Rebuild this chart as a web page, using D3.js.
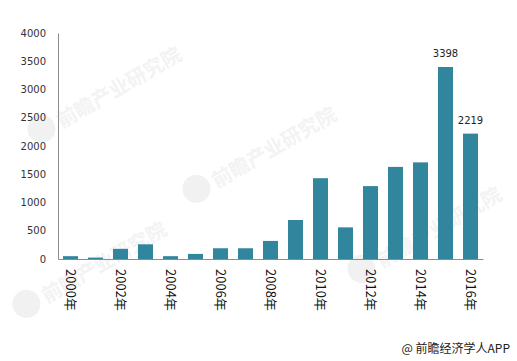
<!doctype html>
<meta charset='utf-8'>
<style>
  body { margin: 0; background: #fff; }
  svg text { font-family: 'DejaVu Sans', sans-serif; }
</style>
<body>
<script src='https://cdn.jsdelivr.net/npm/d3@7/dist/d3.min.js'></script>
<script>

// yearly values
var years = ['2000', '2001', '2002', '2003', '2004', '2005', '2006', '2007', '2008',
             '2009', '2010', '2011', '2012', '2013', '2014', '2015', '2016'];
var values = [50, 25, 180, 260, 50, 90, 190, 190, 320, 690, 1430, 560, 1290, 1630, 1710, 3398, 2219];
var labelled = ['2015', '2016'];   // bars that carry a value label
var yTicks = [0, 500, 1000, 1500, 2000, 2500, 3000, 3500, 4000];

var width = 517, height = 361;
var margin = {top: 33, right: 34, bottom: 102, left: 58};

var svg = d3.select('body').append('svg')
    .attr('width', width)
    .attr('height', height);

// faint watermarks behind the chart
var marks = [[60, 125], [215, 185], [45, 300], [380, 265]];
var wm = svg.append('g').attr('class', 'watermark');
marks.forEach(function(p) {
  var g = wm.append('g').attr('transform', 'translate(' + p[0] + ',' + p[1] + ') rotate(-30)');
  g.append('circle').attr('cx', -18).attr('cy', -6).attr('r', 14).attr('fill', '#f1f1f1');
  g.append('text')
    .attr('x', 0).attr('y', 4)
    .style('font-family', "'Noto Sans CJK SC', sans-serif")
    .style('font-size', '20px')
    .style('font-weight', 'bold')
    .attr('fill', '#f3f3f3')
    .text('前瞻产业研究院');
});

var x = d3.scaleBand()
    .domain(years)
    .range([margin.left, width - margin.right])
    .paddingInner(0.4)
    .paddingOuter(0.2);

var y = d3.scaleLinear()
    .domain([0, 4000])
    .range([height - margin.bottom, margin.top]);

// bars
svg.append('g')
  .selectAll('rect')
  .data(values)
  .enter().append('rect')
    .attr('x', function(d, i) { return x(years[i]); })
    .attr('y', function(d) { return y(d); })
    .attr('width', x.bandwidth())
    .attr('height', function(d) { return y(0) - y(d); })
    .attr('fill', '#31859c');

// value labels
svg.append('g')
  .selectAll('text')
  .data(values.filter(function(d, i) { return labelled.indexOf(years[i]) >= 0; }))
  .enter().append('text')
    .attr('x', function(d) { return x(years[values.indexOf(d)]) + x.bandwidth() / 2; })
    .attr('y', function(d) { return y(d) - 10; })
    .attr('text-anchor', 'middle')
    .style('font-size', '10px')
    .attr('fill', '#222')
    .text(function(d) { return d; });

// y axis
var yAxis = svg.append('g')
    .attr('transform', 'translate(' + margin.left + ',0)')
    .call(d3.axisLeft(y).tickValues(yTicks).tickFormat(d3.format('d')).tickSize(0).tickPadding(12));
yAxis.select('.domain').attr('stroke', '#8c8c8c');
yAxis.selectAll('text').style('font-size', '10px').attr('fill', '#333');

// x axis, label every other year, rotated
var xAxis = svg.append('g')
    .attr('transform', 'translate(0,' + y(0) + ')')
    .call(d3.axisBottom(x)
      .tickValues(years.filter(function(d, i) { return i % 2 === 0; }))
      .tickFormat(function(d) { return d + '年'; })
      .tickSize(0));
xAxis.select('.domain').attr('stroke', '#8c8c8c');
xAxis.selectAll('text')
    .attr('transform', 'rotate(90)')
    .attr('x', 10)
    .attr('y', 0)
    .attr('dy', '0.35em')
    .attr('text-anchor', 'start')
    .style('font-family', "'Noto Sans CJK SC', sans-serif")
    .style('font-size', '13px')
    .attr('fill', '#111');

// source note
svg.append('text')
    .attr('x', 510)
    .attr('y', 353)
    .attr('text-anchor', 'end')
    .style('font-family', "'Noto Sans CJK SC', sans-serif")
    .style('font-size', '12px')
    .attr('fill', '#222')
    .text('@ 前瞻经济学人APP');

</script>
